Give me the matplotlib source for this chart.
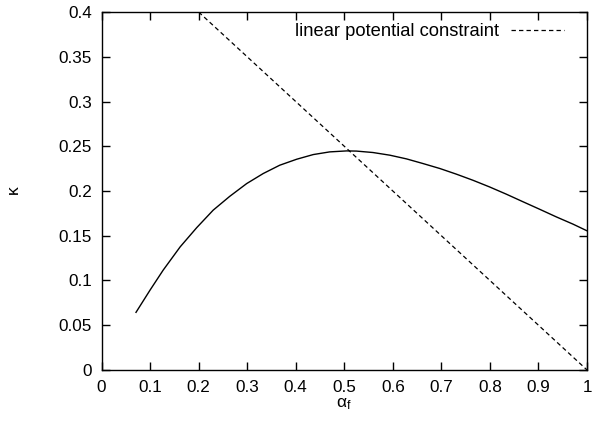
import numpy as np
import matplotlib
matplotlib.use("Agg")
import matplotlib.pyplot as plt

plt.rcParams['font.family'] = ['Liberation Sans', 'DejaVu Sans']

# curve
alpha = [0.071, 0.100, 0.127, 0.162, 0.196, 0.230, 0.264, 0.299, 0.333,
         0.367, 0.402, 0.436, 0.470, 0.505, 0.525, 0.559, 0.594, 0.628,
         0.662, 0.697, 0.731, 0.765, 0.799, 0.834, 0.868, 0.902, 0.937,
         0.971, 1.0]
kappa = [0.0644, 0.0893, 0.1116, 0.1376, 0.159, 0.1786, 0.194, 0.2083,
         0.2195, 0.2288, 0.2355, 0.2407, 0.2437, 0.2448, 0.2446, 0.243,
         0.240, 0.2359, 0.2307, 0.2251, 0.2188, 0.212, 0.2046, 0.1964,
         0.188, 0.1797, 0.171, 0.163, 0.1555]

# linear potential constraint
lin_alpha = [0.2, 1.0]
lin_kappa = [0.4, 0.0]

xticks = np.arange(0, 1.01, 0.1)
yticks = np.arange(0, 0.401, 0.05)

fig = plt.figure(figsize=(5.92, 4.26), dpi=100)
ax = fig.add_axes([0.1715, 0.1315, 0.8201, 0.8403])

ax.plot(alpha, kappa, color='black', lw=1.0)
ax.plot(lin_alpha, lin_kappa, color='black', lw=0.9, dashes=(3.5, 2.5),
        label='linear potential constraint')

ax.set_xlim(0, 1)
ax.set_ylim(0, 0.4)
ax.set_xticks(xticks)
ax.set_xticklabels(['0'] + ['%g' % round(v, 1) for v in xticks[1:-1]] + ['1'])
ax.set_yticks(yticks)
ax.set_yticklabels(['0'] + ['%g' % round(v, 2) for v in yticks[1:]])
ax.tick_params(direction='in', top=True, right=True, length=5.5, width=1,
               labelsize=12.3, pad=7)
for s in ax.spines.values():
    s.set_linewidth(1.0)

ax.set_xlabel(r'$\mathregular{\alpha_f}$', fontsize=12.5, labelpad=1)
ax.set_ylabel(r'$\mathregular{\kappa}$', fontsize=12.5, labelpad=26, rotation=90)

ax.legend(loc='upper right', frameon=False, markerfirst=False,
          fontsize=13.2, handlelength=2.9, handletextpad=0.65,
          borderaxespad=0.0, bbox_to_anchor=(0.968, 0.99))

fig.savefig('out.png', dpi=100)
